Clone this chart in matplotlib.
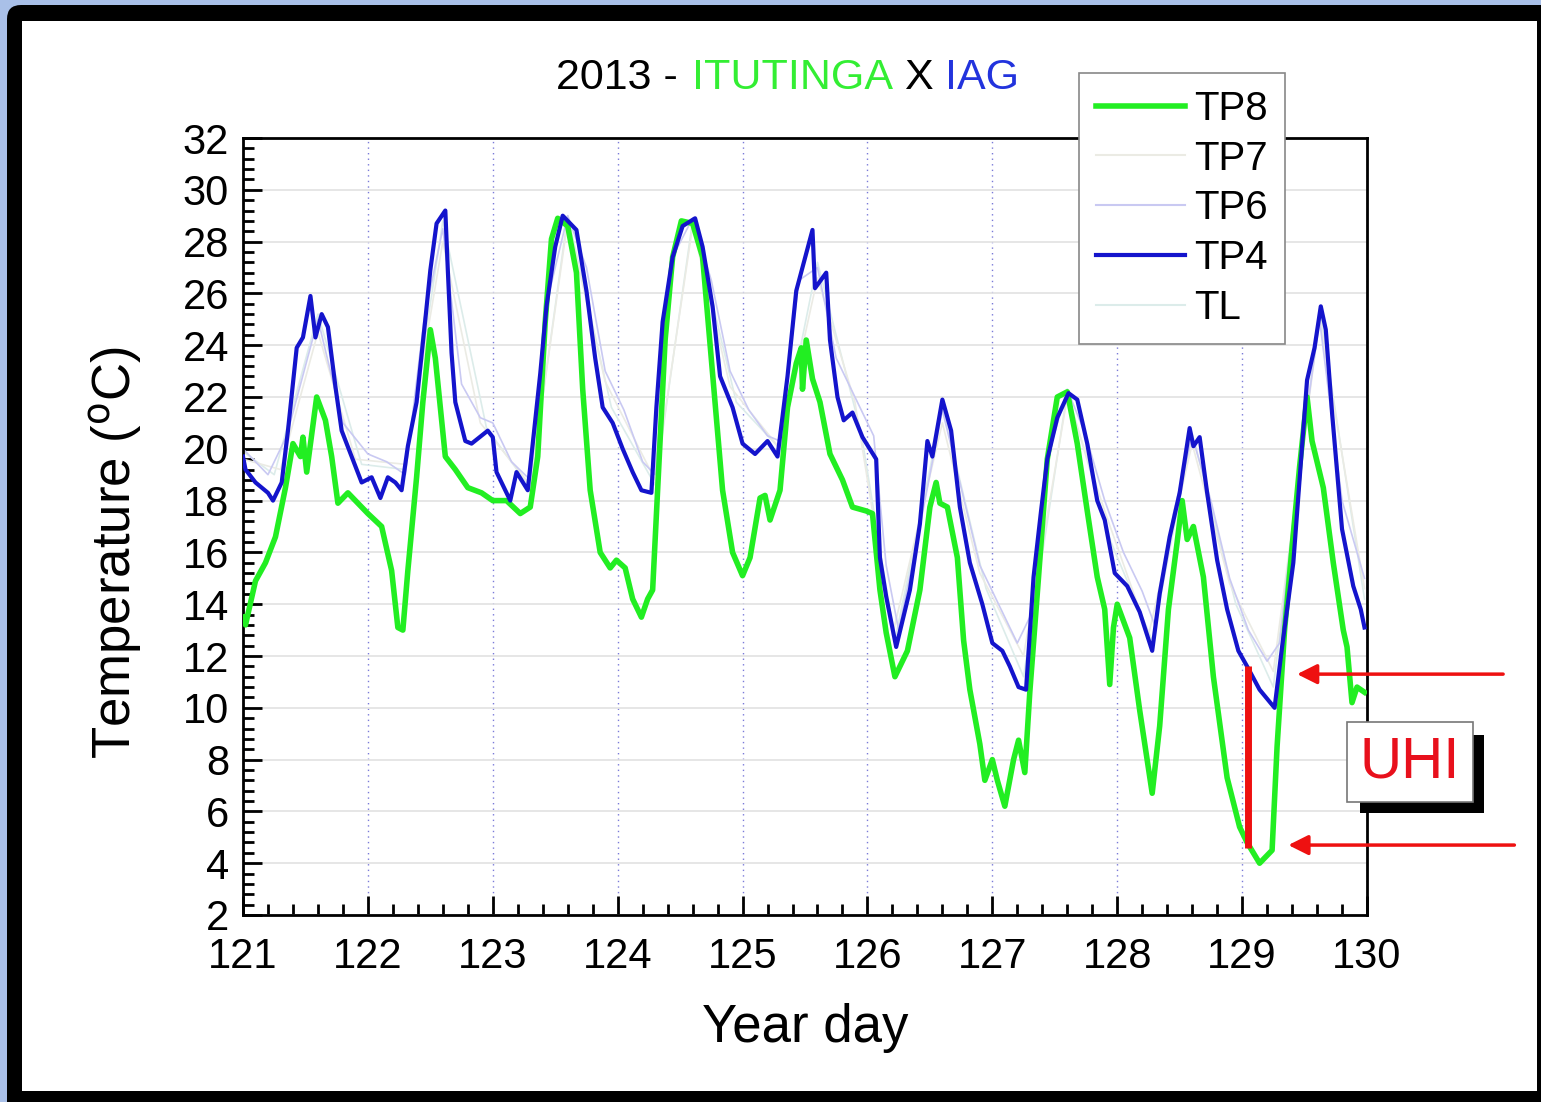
import numpy as np
import matplotlib.pyplot as plt
from matplotlib.patches import FancyBboxPatch, Rectangle
from matplotlib.transforms import IdentityTransform
from matplotlib.lines import Line2D
from matplotlib.ticker import MultipleLocator

plt.rcParams['font.family'] = ['Liberation Sans', 'DejaVu Sans']

# TP8 (Itutinga, green)
tp8_day = [121.0, 121.02, 121.1, 121.18, 121.26, 121.34, 121.4, 121.46, 121.48, 121.51,
           121.59, 121.66, 121.71, 121.76, 121.84, 122.0, 122.11, 122.19, 122.24, 122.28,
           122.32, 122.39, 122.44, 122.5, 122.54, 122.62, 122.7, 122.8, 122.91, 123.0,
           123.11, 123.22, 123.3, 123.36, 123.42, 123.47, 123.52, 123.6, 123.67, 123.72,
           123.78, 123.86, 123.94, 123.99, 124.06, 124.12, 124.19, 124.24, 124.28, 124.32,
           124.38, 124.44, 124.51, 124.6, 124.68, 124.76, 124.84, 124.92, 125.0, 125.06,
           125.14, 125.18, 125.22, 125.3, 125.36, 125.43, 125.47, 125.48, 125.51, 125.56,
           125.62, 125.7, 125.8, 125.88, 125.99, 126.04, 126.1, 126.15, 126.22, 126.32,
           126.42, 126.5, 126.55, 126.58, 126.64, 126.72, 126.77, 126.82, 126.9, 126.94,
           127.0, 127.04, 127.1, 127.17, 127.21, 127.26, 127.3, 127.37, 127.44, 127.52,
           127.6, 127.68, 127.76, 127.84, 127.9, 127.94, 127.97, 128.0, 128.1, 128.18,
           128.28, 128.34, 128.41, 128.48, 128.52, 128.56, 128.61, 128.69, 128.77, 128.88,
           128.98, 129.04, 129.14, 129.24, 129.28, 129.34, 129.4, 129.46, 129.52, 129.56,
           129.65, 129.73, 129.81, 129.84, 129.88, 129.92, 129.98]
tp8_temp = [13.5, 13.2, 14.9, 15.6, 16.6, 18.5, 20.2, 19.7, 20.45, 19.1,
            22.0, 21.1, 19.7, 17.9, 18.3, 17.5, 17.0, 15.3, 13.1, 13.0,
            15.3, 18.9, 21.8, 24.6, 23.5, 19.7, 19.2, 18.5, 18.3, 18.0,
            18.0, 17.5, 17.75, 19.7, 24.9, 28.1, 28.9, 28.6, 26.8, 22.3,
            18.4, 16.0, 15.4, 15.7, 15.4, 14.2, 13.5, 14.2, 14.55, 18.4,
            24.2, 27.4, 28.8, 28.7, 27.4, 22.9, 18.4, 16.0, 15.1, 15.8,
            18.1, 18.2, 17.25, 18.4, 21.6, 23.3, 23.9, 22.3, 24.2, 22.7,
            21.8, 19.8, 18.8, 17.75, 17.6, 17.5, 14.55, 12.9, 11.2, 12.2,
            14.55, 17.75, 18.7, 17.9, 17.75, 15.8, 12.6, 10.7, 8.6, 7.2,
            8.0, 7.2, 6.2, 8.0, 8.75, 7.5, 10.6, 15.05, 19.6, 22.0,
            22.2, 20.2, 17.6, 15.05, 13.8, 10.9, 13.1, 14.0, 12.7, 9.9,
            6.7, 9.3, 13.8, 16.4, 18.0, 16.5, 17.0, 15.05, 11.2, 7.3,
            5.4, 4.8, 4.0, 4.5, 8.5, 13.0, 16.2, 19.3, 22.0, 20.3,
            18.5, 15.6, 13.0, 12.35, 10.2, 10.8, 10.6]

# TP4 (IAG, blue)
tp4_day = [121.0, 121.02, 121.1, 121.2, 121.24, 121.31, 121.36, 121.43, 121.48, 121.54,
           121.58, 121.63, 121.68, 121.74, 121.79, 121.87, 121.95, 122.03, 122.1, 122.16,
           122.22, 122.27, 122.32, 122.39, 122.46, 122.5, 122.55, 122.62, 122.64, 122.67,
           122.7, 122.78, 122.83, 122.96, 123.0, 123.03, 123.14, 123.19, 123.28, 123.38,
           123.43, 123.5, 123.56, 123.62, 123.67, 123.75, 123.82, 123.88, 123.96, 124.04,
           124.12, 124.19, 124.27, 124.31, 124.36, 124.44, 124.52, 124.62, 124.68, 124.76,
           124.82, 124.92, 125.0, 125.1, 125.2, 125.28, 125.36, 125.43, 125.48, 125.56,
           125.58, 125.67, 125.7, 125.76, 125.81, 125.88, 125.96, 126.07, 126.1, 126.15,
           126.23, 126.34, 126.42, 126.48, 126.52, 126.6, 126.67, 126.74, 126.82, 126.92,
           127.0, 127.08, 127.14, 127.21, 127.27, 127.33, 127.39, 127.44, 127.52, 127.61,
           127.68, 127.76, 127.84, 127.9, 127.98, 128.08, 128.18, 128.28, 128.34, 128.42,
           128.5, 128.58, 128.61, 128.66, 128.72, 128.8, 128.88, 128.97, 129.04, 129.14,
           129.26, 129.32, 129.41, 129.46, 129.52, 129.58, 129.63, 129.67, 129.72, 129.8,
           129.89, 129.95, 129.98]
tp4_temp = [19.7, 19.2, 18.7, 18.3, 18.0, 18.7, 20.7, 23.9, 24.3, 25.9,
            24.3, 25.2, 24.7, 22.4, 20.7, 19.7, 18.7, 18.9, 18.1, 18.9,
            18.7, 18.4, 20.1, 21.8, 25.0, 26.9, 28.7, 29.2, 26.9, 23.7,
            21.8, 20.3, 20.2, 20.7, 20.45, 19.1, 18.0, 19.1, 18.4, 22.9,
            25.5, 27.8, 29.0, 28.7, 28.45, 26.1, 23.5, 21.6, 21.0, 20.0,
            19.1, 18.4, 18.3, 21.6, 24.9, 27.4, 28.6, 28.9, 27.8, 25.5,
            22.8, 21.6, 20.2, 19.8, 20.3, 19.7, 22.8, 26.1, 27.0, 28.45,
            26.2, 26.8, 24.2, 22.0, 21.1, 21.4, 20.45, 19.6, 15.8, 14.3,
            12.35, 14.55, 17.1, 20.3, 19.7, 21.9, 20.7, 17.75, 15.6, 14.0,
            12.5, 12.2, 11.6, 10.8, 10.7, 15.05, 17.6, 19.6, 21.2, 22.15,
            21.9, 20.2, 18.0, 17.25, 15.2, 14.7, 13.7, 12.2, 14.4, 16.6,
            18.3, 20.8, 20.1, 20.45, 18.3, 15.7, 13.8, 12.2, 11.6, 10.7,
            10.0, 12.35, 15.6, 18.8, 22.65, 23.9, 25.5, 24.6, 21.4, 16.9,
            14.7, 13.8, 13.1]

# faint series (TP6, TP7, TL)
tp6_day = [121.0, 121.2, 121.35, 121.6, 121.8, 122.0, 122.15, 122.3, 122.45, 122.6,
           122.75, 122.9, 123.0, 123.15, 123.3, 123.45, 123.6, 123.75, 123.9, 124.05,
           124.2, 124.3, 124.45, 124.6, 124.75, 124.9, 125.05, 125.2, 125.3, 125.45,
           125.6, 125.75, 125.9, 126.05, 126.15, 126.25, 126.4, 126.6, 126.75, 126.9,
           127.05, 127.2, 127.3, 127.45, 127.6, 127.75, 127.9, 128.05, 128.2, 128.3,
           128.45, 128.6, 128.75, 128.9, 129.05, 129.2, 129.3, 129.45, 129.62, 129.8, 129.98]
tp6_temp = [20.0, 19.0, 20.5, 25.0, 21.0, 19.8, 19.5, 19.0, 25.0, 28.5,
            22.5, 21.2, 21.0, 19.5, 18.8, 26.0, 29.0, 27.0, 23.0, 21.5,
            19.5, 19.0, 27.5, 28.9, 26.5, 23.0, 21.5, 20.5, 20.3, 26.5,
            27.0, 23.5, 22.0, 20.5, 15.5, 13.0, 16.5, 21.5, 18.5, 15.5,
            14.0, 12.5, 13.5, 19.8, 22.3, 20.5, 18.0, 16.0, 14.5, 13.2,
            17.5, 20.5, 18.0, 15.0, 13.0, 11.8, 12.5, 19.0, 25.0, 18.0, 15.0]
tp7_day = [121.0, 121.3, 121.6, 121.9, 122.3, 122.6, 122.9, 123.3, 123.6, 123.9,
           124.3, 124.6, 124.9, 125.3, 125.6, 125.9, 126.2, 126.6, 126.9, 127.25,
           127.6, 127.9, 128.25, 128.6, 128.9, 129.25, 129.62, 129.98]
tp7_temp = [19.6, 19.2, 24.5, 19.6, 19.4, 28.0, 21.0, 18.6, 28.8, 22.6,
            18.8, 28.6, 22.4, 20.0, 26.6, 21.8, 12.8, 21.0, 15.2, 12.0,
            22.0, 17.6, 12.8, 20.2, 14.8, 11.4, 25.0, 14.6]
tl_day = [121.0, 121.25, 121.6, 121.95, 122.3, 122.6, 122.95, 123.3, 123.6, 123.95,
          124.3, 124.6, 124.95, 125.3, 125.6, 125.95, 126.22, 126.6, 126.95, 127.25,
          127.6, 127.95, 128.28, 128.6, 128.95, 129.25, 129.62, 129.98]
tl_temp = [19.9, 19.0, 25.2, 19.4, 19.2, 28.8, 20.8, 18.5, 29.0, 21.6,
           18.6, 28.8, 21.8, 20.0, 27.2, 20.6, 12.6, 21.6, 14.6, 11.2,
           22.2, 16.4, 12.6, 20.6, 14.0, 10.8, 25.4, 14.2]

# UHI marker values
uhi_day = 129.05
uhi_low, uhi_high = 4.6, 11.6

W, H = 1541, 1102
fig = plt.figure(figsize=(W / 100, H / 100), dpi=100, facecolor='#a9c0e8')


def fx(x):
    return x / W


def fy(y):
    return 1 - y / H


# frame (behind the axes)
fig.add_artist(FancyBboxPatch((7, -20), W + 20, H + 15, boxstyle='round,pad=0,rounding_size=14',
                              facecolor='black', edgecolor='none', transform=IdentityTransform(),
                              zorder=-20))
fig.add_artist(Rectangle((22, 11), 1515, 1070, facecolor='white', edgecolor='none',
                         transform=IdentityTransform(), zorder=-19))

ax = fig.add_axes([fx(243), fy(915), fx(1367) - fx(243), fy(138) - fy(915)])
ax.set_facecolor('white')

ax.plot(tl_day, tl_temp, color='#dcecea', lw=1.2, zorder=2)
ax.plot(tp7_day, tp7_temp, color='#ebebe4', lw=1.2, zorder=2)
ax.plot(tp6_day, tp6_temp, color='#c9c9f2', lw=1.2, zorder=2)
ax.plot(tp8_day, tp8_temp, color='#22ee22', lw=4, zorder=3, solid_joinstyle='round')
ax.plot(tp4_day, tp4_temp, color='#1414cc', lw=3, zorder=4, solid_joinstyle='round')

ax.set_xlim(121, 130)
ax.set_ylim(2, 32)
ax.xaxis.set_major_locator(MultipleLocator(1))
ax.xaxis.set_minor_locator(MultipleLocator(0.2))
ax.yaxis.set_major_locator(MultipleLocator(2))
ax.yaxis.set_minor_locator(MultipleLocator(0.4))
ax.tick_params(which='both', direction='in', top=False, right=False, width=2)
ax.tick_params(which='major', length=14, labelsize=30)
ax.tick_params(axis='x', which='major', pad=16)
ax.tick_params(axis='y', which='major', pad=10)
ax.tick_params(which='minor', length=8)
for s in ax.spines.values():
    s.set_linewidth(2)

# grid
ax.grid(axis='y', which='major', color='#e2e2e2', lw=1.2, zorder=0)
ax.grid(axis='x', which='major', color='#7a7ad8', lw=1.0, ls=(0, (1, 3)), zorder=0)
ax.set_axisbelow(True)

ax.set_xlabel('Year day', fontsize=38)
ax.set_ylabel('Temperature ($^{\\rm o}$C)', fontsize=38)
ax.xaxis.set_label_coords(0.5, -0.113)
ax.yaxis.set_label_coords(-0.087, 0.467)

# title pieces
fig.text(fx(556), fy(78), '2013 -', fontsize=31, color='black', va='center', ha='left')
fig.text(fx(692), fy(78), 'ITUTINGA', fontsize=31, color='#33ee33', va='center', ha='left')
fig.text(fx(904), fy(78), 'X', fontsize=31, color='black', va='center', ha='left')
fig.text(fx(945), fy(78), 'IAG', fontsize=31, color='#2233dd', va='center', ha='left')

# legend
handles = [Line2D([], [], color='#22ee22', lw=4),
           Line2D([], [], color='#ebebe4', lw=1.5),
           Line2D([], [], color='#c9c9f2', lw=1.5),
           Line2D([], [], color='#1414cc', lw=3),
           Line2D([], [], color='#dcecea', lw=1.5)]
leg = fig.legend(handles, ['TP8', 'TP7', 'TP6', 'TP4', 'TL'], loc='upper left',
                 bbox_to_anchor=(fx(1079), fy(73)), bbox_transform=fig.transFigure,
                 fontsize=29, frameon=True, fancybox=False, framealpha=1,
                 edgecolor='#888888', handlelength=2.2, handletextpad=0.25,
                 labelspacing=0.29, borderpad=0.42, borderaxespad=0)
leg.get_frame().set_linewidth(1.2)

# UHI annotation
ax.plot([uhi_day, uhi_day], [uhi_low, uhi_high], color='#ee1111', lw=5, zorder=5,
        solid_capstyle='butt')
ax.annotate('', xy=(129.44, 11.3), xytext=(131.09, 11.3), annotation_clip=False,
            arrowprops=dict(arrowstyle='-|>', color='#ee1111', lw=2.5, mutation_scale=30,
                            shrinkA=0, shrinkB=0))
ax.annotate('', xy=(129.37, 4.7), xytext=(131.18, 4.7), annotation_clip=False,
            arrowprops=dict(arrowstyle='-|>', color='#ee1111', lw=2.5, mutation_scale=30,
                            shrinkA=0, shrinkB=0))

fig.add_artist(Rectangle((1360, H - 813), 124, 78, facecolor='black', edgecolor='none',
                         transform=IdentityTransform(), zorder=10))
fig.add_artist(Rectangle((1347, H - 802), 126, 80, facecolor='white', edgecolor='#777777',
                         lw=1.2, transform=IdentityTransform(), zorder=11))
fig.text(fx(1410), fy(763), 'UHI', fontsize=42, color='#e8101c', ha='center', va='center',
         zorder=12)

fig.savefig('out.png', dpi=100, facecolor=fig.get_facecolor())
